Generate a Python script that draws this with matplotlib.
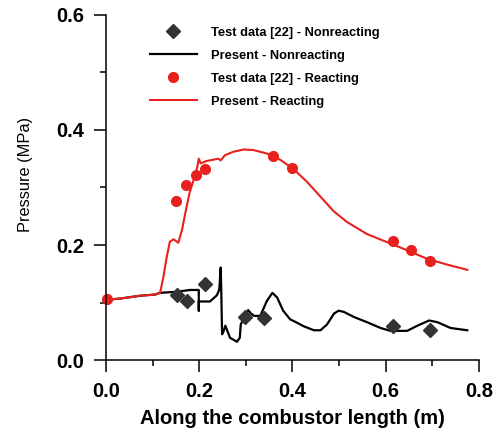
import numpy as np
import matplotlib
matplotlib.use("Agg")
import matplotlib.pyplot as plt
from matplotlib.ticker import MultipleLocator

plt.rcParams['font.family'] = ['Liberation Sans', 'DejaVu Sans']

# Test data [22] - nonreacting (diamonds)
test_nr_x = [0.153, 0.173, 0.213, 0.298, 0.339, 0.615, 0.694]
test_nr_y = [0.114, 0.102, 0.132, 0.075, 0.073, 0.059, 0.053]

# Test data [22] - reacting (circles)
test_r_x = [0.003, 0.150, 0.172, 0.192, 0.213, 0.358, 0.398, 0.615, 0.655, 0.694]
test_r_y = [0.106, 0.277, 0.304, 0.322, 0.332, 0.355, 0.333, 0.207, 0.191, 0.173]

# Present - reacting
pres_r_x = [0.0, 0.030, 0.073, 0.105, 0.116, 0.123, 0.130, 0.137, 0.145, 0.155,
            0.163, 0.170, 0.179, 0.189, 0.196, 0.199, 0.203, 0.216, 0.241, 0.246,
            0.255, 0.273, 0.295, 0.316, 0.345, 0.374, 0.402, 0.431, 0.460, 0.488,
            0.517, 0.560, 0.603, 0.646, 0.689, 0.732, 0.775]
pres_r_y = [0.105, 0.107, 0.112, 0.114, 0.117, 0.144, 0.178, 0.206, 0.210, 0.204,
            0.226, 0.255, 0.290, 0.316, 0.336, 0.350, 0.342, 0.346, 0.350, 0.347,
            0.356, 0.362, 0.366, 0.365, 0.359, 0.348, 0.332, 0.310, 0.284, 0.259,
            0.240, 0.219, 0.205, 0.191, 0.176, 0.166, 0.157]

# Present - nonreacting
pres_nr_x = [0.0, 0.030, 0.073, 0.105, 0.116, 0.153, 0.180, 0.199, 0.199, 0.199,
             0.202, 0.223, 0.238, 0.243, 0.246, 0.247, 0.249, 0.252, 0.256, 0.266,
             0.281, 0.287, 0.289, 0.298, 0.305, 0.311, 0.318, 0.331, 0.345, 0.357,
             0.367, 0.380, 0.395, 0.410, 0.424, 0.446, 0.460, 0.474, 0.489, 0.499,
             0.510, 0.532, 0.560, 0.589, 0.610, 0.646, 0.668, 0.693, 0.711, 0.739,
             0.775]
pres_nr_y = [0.105, 0.107, 0.112, 0.114, 0.117, 0.119, 0.122, 0.122, 0.086, 0.102,
             0.102, 0.102, 0.113, 0.123, 0.161, 0.130, 0.045, 0.050, 0.060, 0.039,
             0.032, 0.039, 0.062, 0.077, 0.087, 0.081, 0.077, 0.077, 0.103, 0.117,
             0.109, 0.086, 0.071, 0.065, 0.059, 0.052, 0.052, 0.062, 0.081, 0.086,
             0.084, 0.075, 0.066, 0.056, 0.051, 0.051, 0.060, 0.069, 0.066, 0.056,
             0.052]

red = '#e8201e'
dark = '#333333'

fig = plt.figure(figsize=(4.96, 4.34), dpi=100)
ax = fig.add_axes([0.2137, 0.170, 0.752, 0.796])

ax.plot(pres_nr_x, pres_nr_y, color='black', lw=1.6, label='Present - Nonreacting')
ax.plot(pres_r_x, pres_r_y, color=red, lw=1.5, label='Present - Reacting')
ax.plot(test_nr_x, test_nr_y, ls='none', marker='D', ms=6.8, color=dark,
        label='Test data [22] - Nonreacting', clip_on=False)
ax.plot(test_r_x, test_r_y, ls='none', marker='o', ms=7, color=red,
        label='Test data [22] - Reacting', clip_on=False)

ax.set_xlim(0, 0.8)
ax.set_ylim(0, 0.6)
ax.xaxis.set_major_locator(MultipleLocator(0.2))
ax.xaxis.set_minor_locator(MultipleLocator(0.1))
ax.yaxis.set_major_locator(MultipleLocator(0.2))
ax.yaxis.set_minor_locator(MultipleLocator(0.1))
ax.xaxis.set_major_formatter(plt.FormatStrFormatter('%.1f'))
ax.yaxis.set_major_formatter(plt.FormatStrFormatter('%.1f'))

for s in ['top', 'right']:
    ax.spines[s].set_visible(False)
for s in ['left', 'bottom']:
    ax.spines[s].set_linewidth(1.1)

ax.tick_params(which='major', direction='out', length=8.5, width=1.1, pad=7,
               labelsize=14.5)
ax.tick_params(which='minor', direction='out', length=4, width=1.1)
for lab in ax.get_xticklabels() + ax.get_yticklabels():
    lab.set_fontweight('bold')

ax.set_xlabel('Along the combustor length (m)', fontsize=14.5, fontweight='bold',
              labelpad=6)
ax.set_ylabel('Pressure (MPa)', fontsize=11.8)
ax.yaxis.set_label_coords(-0.195, 0.539)

h, l = ax.get_legend_handles_labels()
order = [2, 0, 3, 1]
ax.legend([h[i] for i in order], [l[i] for i in order], frameon=False,
          loc='upper left', bbox_to_anchor=(150 / 496, 0.938),
          bbox_transform=fig.transFigure, borderpad=0, borderaxespad=0,
          handlelength=3.6, handletextpad=1.1, labelspacing=0.85,
          prop={'weight': 'bold', 'size': 9.3})

fig.savefig('out.png', dpi=100)
